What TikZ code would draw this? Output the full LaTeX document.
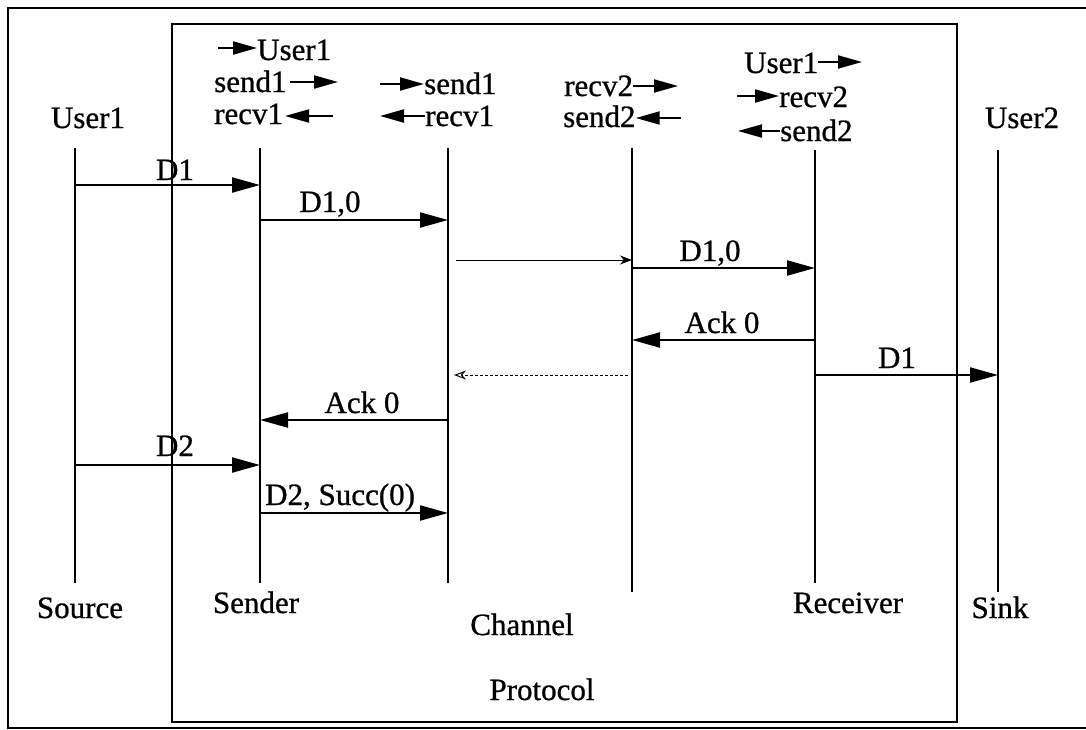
\documentclass[tikz,border=0pt]{standalone}
\usepackage{fontspec}
\setmainfont{Liberation Serif}[FakeBold=0.8]
\usetikzlibrary{arrows.meta}
\begin{document}
\begin{tikzpicture}[x=1pt,y=-1pt,
  life/.style={line width=2pt},
  frm/.style={line width=2.2pt},
  msg/.style={line width=2.2pt,-{Triangle[length=28pt,width=15pt]}},
  lbl/.style={font=\fontsize{31}{35}\selectfont, inner sep=0pt, anchor=base},
  mini/.style={line width=2pt,-{Triangle[length=24pt,width=13pt]}},
  faint/.style={line width=1pt,-{Stealth[length=12pt,width=9pt]}},
  faintd/.style={line width=1pt,densely dashed,-{Stealth[length=12pt,width=9pt,open]}}
]
\useasboundingbox (0,0) rectangle (1086,729);
% outer frame
\draw[frm] (1090,8) -- (8,8) -- (8,728) -- (1090,728);
% protocol box
\draw[frm] (172,24) rectangle (957,722);
\node[lbl] (proto) at (542,700) {Protocol};

% lifelines
\coordinate (srcT) at (75,148);  \coordinate (srcB) at (75,583);
\coordinate (sndT) at (260,148); \coordinate (sndB) at (260,583);
\coordinate (chlT) at (448,148); \coordinate (chlB) at (448,583);
\coordinate (chrT) at (632,148); \coordinate (chrB) at (632,592);
\coordinate (rcvT) at (815,150); \coordinate (rcvB) at (815,583);
\coordinate (snkT) at (998,150); \coordinate (snkB) at (998,592);
\foreach \l in {src,snd,chl,chr,rcv,snk} \draw[life] (\l T) -- (\l B);

% lifeline labels
\node[lbl] (user1) at (88,128) {User1};
\node[lbl] (user2) at (1022,128) {User2};
\node[lbl] (source) at (80,618) {Source};
\node[lbl] (sender) at (256,613) {Sender};
\node[lbl] (channel) at (522,635) {Channel};
\node[lbl] (receiver) at (848,613) {Receiver};
\node[lbl] (sink) at (1000,618) {Sink};

% top port labels
\node[lbl,anchor=base west] (pU1) at (257,60) {User1};
\draw[mini] (218,48) -- (pU1.west |- 0,48);
\node[lbl,anchor=base west] (pS1) at (214,92) {send1};
\draw[mini] (290,82) -- (338,82);
\node[lbl,anchor=base west] (pR1) at (214,124) {recv1};
\draw[mini] (333,116) -- (285,116);
\node[lbl,anchor=base west] (cS1) at (424,94) {send1};
\draw[mini] (380,84) -- (cS1.west |- 0,84);
\node[lbl,anchor=base west] (cR1) at (425,126) {recv1};
\draw[mini] (cR1.west |- 0,116) -- (380,116);
\node[lbl,anchor=base west] (cR2) at (564,96) {recv2};
\draw[mini] (cR2.east |- 0,86) -- (678,86);
\node[lbl,anchor=base west] (cS2) at (563,127) {send2};
\draw[mini] (681,118) -- (cS2.east |- 0,118);
\node[lbl,anchor=base west] (rU1) at (744,73) {User1};
\draw[mini] (rU1.east |- 0,62) -- (862,62);
\node[lbl,anchor=base west] (rR2) at (779,107) {recv2};
\draw[mini] (737,96) -- (rR2.west |- 0,96);
\node[lbl,anchor=base west] (rS2) at (780,141) {send2};
\draw[mini] (rS2.west |- 0,131) -- (738,131);

% messages
\draw[msg] (srcT |- 0,185) -- (sndT |- 0,185);
\node[lbl] (m1) at (175,180) {D1};
\draw[msg] (sndT |- 0,220) -- (chlT |- 0,220);
\node[lbl] (m2) at (330,212) {D1,0};
\draw[faint] ([xshift=8pt]chlT |- 0,260) -- (chrT |- 0,260);
\draw[msg] (chrT |- 0,268) -- (rcvT |- 0,268);
\node[lbl] (m3) at (710,261) {D1,0};
\draw[msg] (rcvT |- 0,340) -- (chrT |- 0,340);
\node[lbl] (m4) at (722,333) {Ack 0};
\draw[faintd] ([xshift=-4pt]chrT |- 0,375) -- ([xshift=6pt]chlT |- 0,375);
\draw[msg] (rcvT |- 0,375) -- (snkT |- 0,375);
\node[lbl] (m5) at (897,368) {D1};
\draw[msg] (chlT |- 0,420) -- (sndT |- 0,420);
\node[lbl] (m6) at (362,413) {Ack 0};
\draw[msg] (srcT |- 0,465) -- (sndT |- 0,465);
\node[lbl] (m7) at (175,456) {D2};
\draw[msg] (sndT |- 0,513) -- (chlT |- 0,513);
\node[lbl,anchor=base west] (m8) at (265,505) {D2, Succ(0)};
\end{tikzpicture}
\end{document}
